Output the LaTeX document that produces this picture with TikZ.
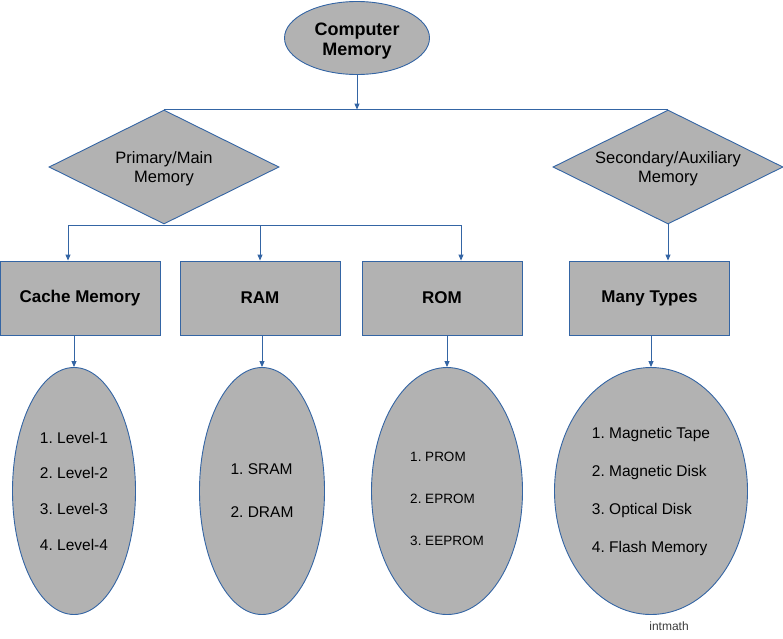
\documentclass[tikz,border=0pt]{standalone}
\usepackage{fontspec}
\setmainfont{Liberation Sans}
\usetikzlibrary{shapes.geometric,arrows.meta}
\definecolor{chartblue}{RGB}{52,101,164}
\definecolor{shapegray}{RGB}{178,178,178}
\definecolor{notegray}{RGB}{60,60,60}
\frenchspacing
% text block moved down inside its shape
\newcommand{\sunktext}[3]{\raisebox{#1}[0pt][0pt]{\begin{tabular}{@{}#2@{}}#3\end{tabular}}}

\begin{document}
\begin{tikzpicture}[x=1pt,y=-1pt,
    shapebase/.style={draw=chartblue, line width=0.9pt, fill=shapegray, inner sep=0pt},
    rootnode/.style={shapebase, ellipse, minimum width=145pt, minimum height=73pt,
                     font=\fontsize{18}{19.5}\selectfont\bfseries},
    kindnode/.style={shapebase, diamond, aspect=2, minimum width=230pt, minimum height=114pt,
                     font=\fontsize{16.5}{19}\selectfont},
    groupbox/.style={shapebase, rectangle, minimum width=160pt, minimum height=74pt,
                     font=\fontsize{17}{20}\selectfont\bfseries},
    listnode/.style={shapebase, ellipse, minimum height=247pt, align=left},
    link/.style={draw=chartblue, line width=0.9pt},
    arr/.style={link, -{Triangle[length=6pt, width=5pt]}}]
  \useasboundingbox (0,0) rectangle (783,638);

  % top
  \node[rootnode] (mem) at (357,38) {\sunktext{-8pt}{c}{Computer\\Memory}};

  % two kinds
  \node[kindnode] (prim) at (164,167) {\sunktext{-6.5pt}{c}{Primary/Main\\Memory}};
  \node[kindnode] (sec) at (668,167) {\sunktext{-6.5pt}{c}{Secondary/Auxiliary\\Memory}};

  % groups
  \node[groupbox] (cache) at (80,298) {Cache Memory};
  \node[groupbox] (ram) at (260,298) {RAM};
  \node[groupbox] (rom) at (442,298) {ROM};
  \node[groupbox] (many) at (649.5,298) {Many Types};

  % lists
  \node[listnode, minimum width=123pt, font=\fontsize{15.5}{35.7}\selectfont] (lvl) at (74,491)
    {1. Level-1\\2. Level-2\\3. Level-3\\4. Level-4};
  \node[listnode, minimum width=125pt, font=\fontsize{15.5}{43}\selectfont] (ramlist) at (262,491)
    {1. SRAM\\2. DRAM};
  \node[listnode, minimum width=151pt, font=\fontsize{13.5}{42}\selectfont] (romlist) at (447,491)
    {\sunktext{-8pt}{l}{1. PROM\\2. EPROM\\3. EEPROM}};
  \node[listnode, minimum width=193pt, font=\fontsize{15.5}{38}\selectfont] (secl) at (651,491)
    {1. Magnetic Tape\\2. Magnetic Disk\\3. Optical Disk\\4. Flash Memory};

  \node[text=notegray, font=\fontsize{12}{14}\selectfont] (src) at (669,626) {intmath};

  % connectors
  \draw[link] (prim.north) -- (sec.north);
  \draw[arr] (mem.south) -- (mem.south |- prim.north);

  \coordinate (pbusL) at (68,225);
  \coordinate (pbusR) at (461,225);
  \draw[link] (pbusL) -- (pbusR);
  \draw[arr] (pbusL) -- (pbusL |- cache.north);
  \draw[arr] (ram.north |- pbusL) -- (ram.north);
  \draw[arr] (pbusR) -- (pbusR |- rom.north);
  \draw[arr] (sec.south) -- (sec.south |- many.north);

  \draw[arr] (lvl.north |- cache.south) -- (lvl.north);
  \draw[arr] (ramlist.north |- ram.south) -- (ramlist.north);
  \draw[arr] (romlist.north |- rom.south) -- (romlist.north);
  \draw[arr] (secl.north |- many.south) -- (secl.north);
\end{tikzpicture}
\end{document}
